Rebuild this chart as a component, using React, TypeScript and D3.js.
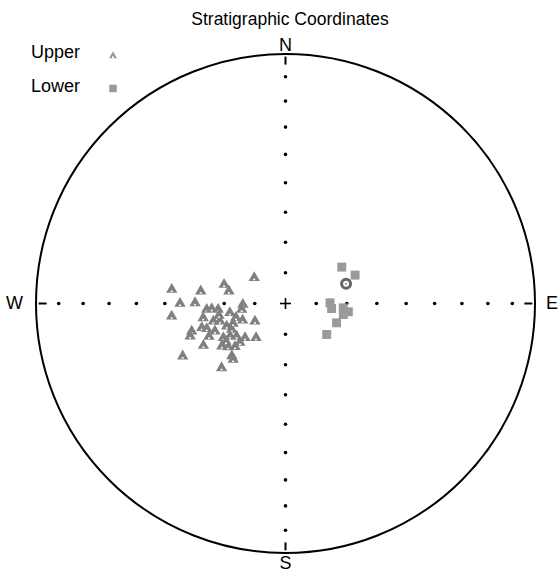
import * as d3 from "d3";

// declination / inclination (deg), upper hemisphere = negative inclination
const upperDec = [277.0, 278.3, 287.2, 282.3, 309.5, 270.0, 270.4, 268.7, 263.6, 265.6, 265.9, 264.9, 260.5, 260.1, 256.2, 254.9, 262.2, 248.7, 239.9, 253.5, 251.1, 253.8, 252.2, 248.6, 248.9, 244.2, 241.1, 239.5, 236.2, 229.7, 220.7, 236.2, 232.9, 229.4, 242.9, 242.9, 225.6, 223.0, 224.8, 254.2, 237.4, 229.4, 259.8, 246.7, 249.1];
const upperInc = [-52.1, -61.9, -69.0, -71.1, -76.8, -55.2, -60.3, -76.1, -52.1, -64.1, -65.8, -67.9, -71.6, -62.6, -65.7, -67.8, -75.6, -75.0, -78.5, -57.8, -56.8, -61.4, -62.9, -65.2, -69.4, -70.5, -66.8, -69.0, -70.8, -72.7, -75.3, -64.9, -66.5, -68.3, -59.7, -51.8, -65.4, -64.9, -60.2, -73.2, -66.9, -70.4, -67.9, -62.7, -71.7];
const lowerDec = [57.1, 67.8, 89.1, 96.2, 94.3, 97.5, 100.8, 110.7, 126.9];
const lowerInc = [68.1, 65.4, 75.5, 74.9, 71.1, 69.3, 70.8, 72.2, 73.2];
const meanDir = { dec: 72.0, inc: 69.2 };
const tickIncs = [80, 70, 60, 50, 40, 30, 20, 10];
const compass = [
  { label: "N", az: 0 },
  { label: "E", az: 90 },
  { label: "S", az: 180 },
  { label: "W", az: 270 },
];

const W = 559;
const H = 573;
const cx = 285.5;
const cy = 303.5;
const R = 249.5;
const rad = Math.PI / 180;

const x = d3.scaleLinear().domain([-1, 1]).range([cx - R, cx + R]);
const y = d3.scaleLinear().domain([-1, 1]).range([cy + R, cy - R]);

// Schmidt equal-area projection
function project(dec: number, inc: number): [number, number] {
  const r = Math.SQRT2 * Math.sin(((90 - Math.abs(inc)) / 2) * rad);
  return [x(r * Math.sin(dec * rad)), y(r * Math.cos(dec * rad))];
}

const triPath = d3.symbol(d3.symbolTriangle, 56)()!;
const sqPath = d3.symbol(d3.symbolSquare, 80)()!;
const legendTri = d3.symbol(d3.symbolTriangle, 28)()!;
const legendSq = d3.symbol(d3.symbolSquare, 56)()!;

export default function App() {
  const font = "Liberation Sans, Arial, sans-serif";
  const upper = upperDec.map((d, i) => project(d, upperInc[i]));
  const lower = lowerDec.map((d, i) => project(d, lowerInc[i]));
  const mean = project(meanDir.dec, meanDir.inc);

  return (
    <svg
      width={W}
      height={H}
      style={{ position: "absolute", left: 0, top: 0, background: "#fff" }}
      fontFamily={font}
    >
      <text x={290} y={25} textAnchor="middle" fontSize={17.5}>
        Stratigraphic Coordinates
      </text>

      {/* legend */}
      <text x={31} y={58} fontSize={18}>Upper</text>
      <path d={legendTri} transform="translate(113,56)" fill="#999" />
      <rect x={112} y={56.5} width={2} height={1.5} fill="#fff" />
      <text x={31} y={92} fontSize={18}>Lower</text>
      <path d={legendSq} transform="translate(113,88.5)" fill="#999" />

      <circle cx={cx} cy={cy} r={R} fill="none" stroke="#000" strokeWidth={2} />

      {/* axis dots every 10 degrees of inclination */}
      {compass.map((c) =>
        tickIncs.map((inc) => {
          const [px, py] = project(c.az, inc);
          return <circle key={c.label + inc} cx={px} cy={py} r={1.8} fill="#000" />;
        })
      )}

      {/* ticks on the primitive */}
      {compass.map((c) => {
        const [x1, y1] = project(c.az, 3);
        const [x2, y2] = project(c.az, -3);
        const ox = Math.sin(c.az * rad) * 4;
        const oy = -Math.cos(c.az * rad) * 4;
        return (
          <line
            key={"t" + c.label}
            x1={x1 - ox}
            y1={y1 - oy}
            x2={x2 + ox}
            y2={y2 + oy}
            stroke="#000"
            strokeWidth={2}
          />
        );
      })}

      {/* centre cross */}
      <line x1={cx - 5.5} x2={cx + 5.5} y1={cy} y2={cy} stroke="#000" strokeWidth={1.6} />
      <line x1={cx} x2={cx} y1={cy - 5.5} y2={cy + 5.5} stroke="#000" strokeWidth={1.6} />

      <text x={cx} y={51} textAnchor="middle" fontSize={18}>N</text>
      <text x={cx} y={569} textAnchor="middle" fontSize={18}>S</text>
      <text x={546} y={309} fontSize={18}>E</text>
      <text x={6} y={309} fontSize={18}>W</text>

      {upper.map(([px, py], i) => (
        <g key={"u" + i} transform={`translate(${px},${py})`}>
          <path d={triPath} fill="#808080" />
          <rect x={-1} y={1} width={2} height={1.5} fill="#fff" />
        </g>
      ))}

      {lower.map(([px, py], i) => (
        <path key={"l" + i} d={sqPath} transform={`translate(${px},${py})`} fill="#9a9a9a" />
      ))}

      <circle cx={mean[0]} cy={mean[1]} r={4.5} fill="#fff" stroke="#666" strokeWidth={3} />
      <circle cx={mean[0]} cy={mean[1]} r={1.3} fill="#aaa" />
    </svg>
  );
}
